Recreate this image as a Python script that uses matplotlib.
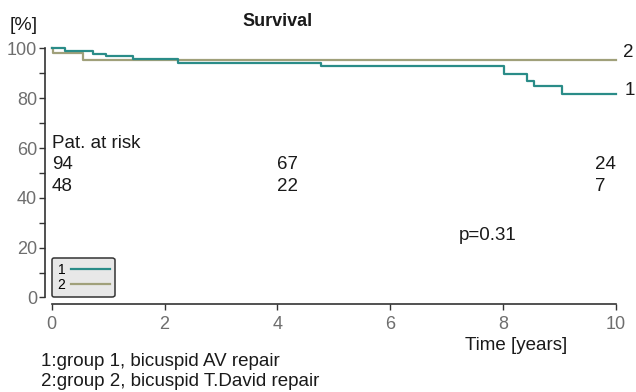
import matplotlib
matplotlib.use('Agg')
import matplotlib.pyplot as plt
from matplotlib.lines import Line2D

# Kaplan-Meier steps (time in years, survival in %)
t_group1 = [0, 0.23, 0.73, 0.97, 1.44, 2.23, 4.78, 8.01, 8.42, 8.55, 9.04, 10.0]
s_group1 = [100, 99.0, 97.8, 96.8, 95.6, 94.3, 93.1, 89.8, 87.1, 85.0, 81.6, 81.6]
t_group2 = [0, 0.02, 0.55, 10.0]
s_group2 = [100, 98.2, 95.5, 95.5]

# patients at risk
risk_times = [0, 4, 9.63]
risk_group1 = [94, 67, 24]
risk_group2 = [48, 22, 7]

teal = '#2a8c88'
olive = '#a0a07a'
txt = '#1a1a1a'
tickgrey = '#6e6e6e'

plt.rcParams['font.family'] = ['Liberation Sans', 'DejaVu Sans']

fig = plt.figure(figsize=(6.36, 3.92), dpi=100)
ax = fig.add_axes([0.0813, 0.2411, 0.8873, 0.6352])

ax.step(t_group2, s_group2, where='post', color=olive, lw=1.6, clip_on=False)
ax.step(t_group1, s_group1, where='post', color=teal, lw=1.6, clip_on=False)

ax.set_xlim(0, 10)
ax.set_ylim(0, 100)

for side in ['top', 'right']:
    ax.spines[side].set_visible(False)
ax.spines['left'].set_position(('outward', 5))
ax.spines['bottom'].set_position(('outward', 5))
ax.spines['left'].set_bounds(0, 100)
ax.spines['bottom'].set_bounds(0, 10)
for side in ['left', 'bottom']:
    ax.spines[side].set_color('#333333')
    ax.spines[side].set_linewidth(1.2)

ax.set_xticks(range(0, 11, 2))
ax.set_yticks(range(0, 101, 20))
ax.set_yticks(range(10, 100, 20), minor=True)
ax.tick_params(which='both', direction='out', length=4, width=1, color='#333333',
               labelcolor=tickgrey, labelsize=13, pad=1.5)
ax.tick_params(axis='x', length=4.5, pad=4)
for lab in ax.get_xticklabels() + ax.get_yticklabels():
    lab.set_family(['Liberation Sans Narrow', 'Liberation Sans'])

# end-of-curve labels
ax.annotate('2', (t_group2[-1], s_group2[-1]), xytext=(5, 5), textcoords='offset points',
            va='center', ha='left', fontsize=13.5, color=txt, annotation_clip=False)
ax.annotate('1', (t_group1[-1], s_group1[-1]), xytext=(6, 3), textcoords='offset points',
            va='center', ha='left', fontsize=13.5, color=txt, annotation_clip=False)

# patients at risk table
ax.text(0, 61.8, 'Pat. at risk', fontsize=13.5, color=txt, va='center', ha='left')
for x, a, b in zip(risk_times, risk_group1, risk_group2):
    ax.text(x, 53.4, str(a), fontsize=13.5, color=txt, va='center', ha='left')
    ax.text(x, 44.5, str(b), fontsize=13.5, color=txt, va='center', ha='left')

ax.text(7.21, 24.7, 'p=0.31', fontsize=13.5, color=txt, va='center', ha='left')

# legend
handles = [Line2D([], [], color=teal, lw=1.6), Line2D([], [], color=olive, lw=1.6)]
leg = ax.legend(handles, ['1', '2'], loc='lower left', bbox_to_anchor=(0, 0),
                borderaxespad=0, markerfirst=False, fontsize=10, handlelength=2.8,
                handletextpad=0.4, labelspacing=0.05, borderpad=0.4,
                fancybox=True, framealpha=1, facecolor='#e8e8e8', edgecolor='#333333')
leg.get_frame().set_linewidth(1.1)

# figure texts
fig.text(10 / 636, 1 - 25 / 392, '[%]', fontsize=14, color=txt, va='center', ha='left')
fig.text(242 / 636, 1 - 22 / 392, 'Survival', fontsize=13, fontweight='bold', color=txt,
         va='center', ha='left')
fig.text(465 / 636, 1 - 345 / 392, 'Time [years]', fontsize=13.5, color=txt, va='center', ha='left')
fig.text(41 / 636, 1 - 361 / 392, '1:group 1, bicuspid AV repair', fontsize=13.5, color=txt,
         va='center', ha='left')
fig.text(41 / 636, 1 - 382 / 392, '2:group 2, bicuspid T.David repair', fontsize=13.5, color=txt,
         va='center', ha='left')

fig.savefig('out.png', dpi=100)
plt.close('all')
